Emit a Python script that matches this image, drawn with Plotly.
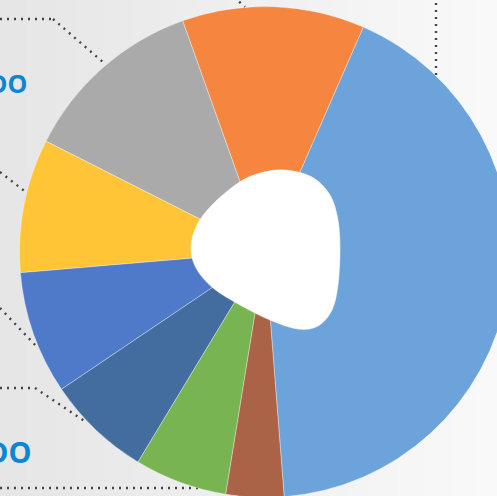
import plotly.graph_objects as go
import numpy as np

# ---- data ----
categories = ["A", "B", "C", "D", "E", "F", "G", "H"]
values = [42.2, 12.0, 12.1, 8.8, 8.1, 6.9, 6.1, 3.8]
colors = ["#6CA3DB", "#F5853F", "#AAAAAA", "#FFC536", "#4F79C9", "#426D9E", "#78B451", "#AA6347"]
side_labels = ["DO", "DO"]

W, H = 530, 514
CX, CY, R = 265, 252, 245.5


def px(x):
    return x / W


def py(y):
    return 1 - y / H


fig = go.Figure()
fig.add_trace(go.Pie(
    labels=categories, values=values, sort=False,
    direction="counterclockwise", rotation=23.6,
    marker=dict(colors=colors, line=dict(color="rgba(255,255,255,0.6)", width=0.6)),
    textinfo="none", hoverinfo="skip", showlegend=False,
    domain=dict(x=[(CX - R) / W, (CX + R) / W], y=[1 - (CY + R) / H, 1 - (CY - R) / H]),
))

shapes = []
# background gradient strips
n = 40
c0 = np.array([0xE6, 0xE6, 0xE6])
c1 = np.array([0xFB, 0xFB, 0xFB])
for i in range(n):
    t = i / (n - 1)
    c = (c0 + (c1 - c0) * t).astype(int)
    shapes.append(dict(type="rect", xref="paper", yref="paper", layer="below",
                       x0=i / n, x1=(i + 1) / n + 0.002, y0=0, y1=1,
                       fillcolor="rgb(%d,%d,%d)" % tuple(c), line=dict(width=0)))

# dotted leader lines (pixel coordinates)
dots = [
    [(0, 19), (53, 19), (104, 63)],
    [(0, 172), (27, 193)],
    [(0, 308), (38, 348)],
    [(0, 388), (35, 388), (86, 422)],
    [(0, 488), (205, 488)],
    [(234, -3), (245, 7)],
    [(436, 3), (436, 76)],
]
for seg in dots:
    for (xa, ya), (xb, yb) in zip(seg[:-1], seg[1:]):
        shapes.append(dict(type="line", xref="paper", yref="paper", layer="below",
                           x0=px(xa), y0=py(ya), x1=px(xb), y1=py(yb),
                           line=dict(color="#444444", width=2.4, dash="2px,5px")))

# white blob in the centre (smooth closed curve)
pts = [(285, 170), (312, 177), (330, 195), (338, 220), (340, 250), (338, 285), (332, 310),
       (318, 326), (298, 329), (270, 320), (240, 305), (213, 288), (196, 268), (191, 247),
       (197, 225), (212, 205), (238, 183), (260, 173)]
P = np.array(pts, dtype=float)
m = len(P)
path = "M %f,%f" % (px(P[0][0]), py(P[0][1]))
for i in range(m):
    p0, p1, p2, p3 = P[(i - 1) % m], P[i], P[(i + 1) % m], P[(i + 2) % m]
    b1 = p1 + (p2 - p0) / 6
    b2 = p2 - (p3 - p1) / 6
    path += " C %f,%f %f,%f %f,%f" % (px(b1[0]), py(b1[1]), px(b2[0]), py(b2[1]), px(p2[0]), py(p2[1]))
path += " Z"
shapes.append(dict(type="path", xref="paper", yref="paper", layer="above", path=path,
                   fillcolor="white", line=dict(color="white", width=0.5)))

annotations = [
    dict(text="<b>%s</b>" % side_labels[0], x=px(29), y=py(83), xref="paper", yref="paper",
         xanchor="right", yanchor="middle", showarrow=False,
         font=dict(family="Open Sans", size=25, color="#0A87D0")),
    dict(text="<b>%s</b>" % side_labels[1], x=px(34), y=py(451), xref="paper", yref="paper",
         xanchor="right", yanchor="middle", showarrow=False,
         font=dict(family="Open Sans", size=29, color="#0A87D0")),
]

fig.update_layout(width=W, height=H, margin=dict(l=0, r=0, t=0, b=0),
                  paper_bgcolor="#F0F0F0", plot_bgcolor="#F0F0F0",
                  shapes=shapes, annotations=annotations)
fig.write_html("out.html", config={"displayModeBar": False},
               post_script="document.body.style.margin='0';")
